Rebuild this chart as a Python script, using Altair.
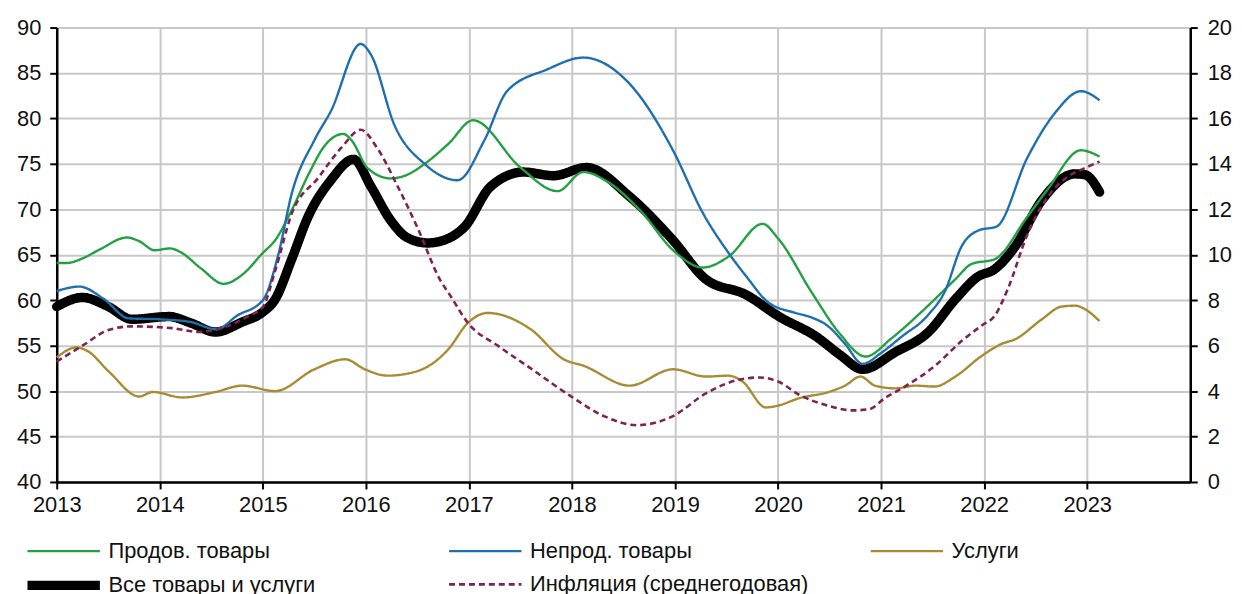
import altair as alt
import pandas as pd

# ---- data ----
names = ["Продов. товары", "Непрод. товары", "Услуги",
         "Все товары и услуги", "Инфляция (среднегодовая)"]

food_x = [2013.0, 2013.1, 2013.25, 2013.42, 2013.68, 2013.8, 2013.95, 2014.1, 2014.2, 2014.4,
          2014.62, 2014.8, 2015.0, 2015.12, 2015.28, 2015.45, 2015.6, 2015.78, 2015.86, 2016.02,
          2016.24, 2016.4, 2016.57, 2016.8, 2017.04, 2017.5, 2017.86, 2018.11, 2018.35, 2018.66,
          2019.0, 2019.27, 2019.52, 2019.85, 2020.0, 2020.33, 2020.6, 2020.85, 2021.1, 2021.4,
          2021.72, 2021.88, 2022.1, 2022.42, 2022.61, 2022.94, 2023.12]
food_y = [64.1, 64.1, 64.6, 65.6, 66.9, 66.5, 65.5, 65.7, 65.3, 63.5,
          61.8, 62.8, 65.2, 66.6, 69.9, 74.0, 77.0, 78.3, 77.6, 74.5,
          73.4, 73.8, 75.0, 77.2, 79.8, 74.6, 72.0, 74.1, 73.0, 69.9,
          65.3, 63.6, 64.8, 68.4, 66.8, 60.8, 56.3, 53.8, 55.8, 58.8,
          62.3, 64.0, 64.5, 69.2, 72.1, 76.5, 75.8]

nonfood_x = [2013.0, 2013.22, 2013.45, 2013.7, 2014.0, 2014.3, 2014.55, 2014.75, 2015.0, 2015.15,
             2015.28, 2015.5, 2015.66, 2015.95, 2016.05, 2016.28, 2016.57, 2016.89, 2017.15, 2017.37,
             2017.76, 2018.11, 2018.56, 2018.98, 2019.27, 2019.52, 2019.7, 2019.9, 2020.17, 2020.3,
             2020.49, 2020.65, 2020.82, 2021.0, 2021.2, 2021.45, 2021.62, 2021.78, 2021.95, 2022.12,
             2022.42, 2022.68, 2022.94, 2023.12]
nonfood_y = [61.0, 61.5, 60.2, 58.0, 57.9, 57.6, 56.8, 58.3, 60.0, 65.0,
             71.7, 77.6, 80.8, 88.2, 87.0, 79.2, 75.0, 73.2, 77.6, 83.0,
             85.4, 86.7, 83.8, 76.5, 69.6, 65.2, 62.5, 59.8, 58.6, 58.2,
             57.1, 55.2, 53.0, 54.2, 56.0, 58.3, 61.0, 65.9, 67.7, 68.1,
             75.7, 80.5, 83.0, 82.0]

svc_x = [2013.0, 2013.19, 2013.3, 2013.51, 2013.8, 2013.93, 2014.22, 2014.54, 2014.8, 2015.12,
         2015.5, 2015.8, 2015.99, 2016.21, 2016.5, 2016.8, 2016.99, 2017.18, 2017.6, 2017.92,
         2018.11, 2018.56, 2018.98, 2019.3, 2019.52, 2019.66, 2019.88, 2020.0, 2020.2, 2020.49,
         2020.65, 2020.8, 2020.94, 2021.14, 2021.33, 2021.52, 2021.72, 2021.98, 2022.17, 2022.3,
         2022.56, 2022.75, 2022.88, 2022.98, 2023.12]
svc_y = [53.7, 54.8, 54.4, 52.1, 49.4, 49.9, 49.3, 49.9, 50.6, 50.0,
         52.4, 53.5, 52.4, 51.7, 52.2, 54.6, 57.5, 58.6, 56.8, 53.5,
         52.8, 50.6, 52.4, 51.6, 51.7, 51.0, 48.2, 48.4, 49.2, 49.9,
         50.6, 51.6, 50.6, 50.3, 50.6, 50.5, 51.6, 53.9, 55.2, 55.7,
         57.9, 59.3, 59.4, 59.0, 57.7]

all_x = [2013.0, 2013.25, 2013.5, 2013.73, 2014.09, 2014.3, 2014.54, 2014.8, 2015.0, 2015.12,
         2015.28, 2015.44, 2015.66, 2015.88, 2016.05, 2016.24, 2016.4, 2016.6, 2016.8, 2016.96,
         2017.21, 2017.53, 2017.82, 2018.14, 2018.56, 2018.98, 2019.3, 2019.69, 2020.01, 2020.37,
         2020.6, 2020.82, 2021.14, 2021.46, 2021.72, 2021.94, 2022.1, 2022.3, 2022.56, 2022.88,
         2022.98, 2023.12]
all_y = [59.3, 60.3, 59.3, 57.9, 58.2, 57.5, 56.5, 57.6, 58.7, 60.1,
         64.5, 69.2, 73.2, 75.5, 72.5, 68.8, 66.9, 66.3, 66.8, 68.1,
         72.5, 74.1, 73.7, 74.6, 71.4, 66.6, 62.3, 60.6, 58.2, 56.0,
         54.0, 52.4, 54.3, 56.5, 60.1, 62.6, 63.4, 65.9, 71.0, 73.9,
         73.8, 71.9]

infl_x = [2013.0, 2013.25, 2013.51, 2013.73, 2014.12, 2014.38, 2014.54, 2014.86, 2015.0, 2015.12,
          2015.28, 2015.54, 2015.76, 2015.95, 2016.11, 2016.31, 2016.5, 2016.72, 2016.82, 2016.99,
          2017.28, 2017.6, 2017.98, 2018.31, 2018.63, 2018.98, 2019.3, 2019.62, 2019.82, 2020.01,
          2020.2, 2020.49, 2020.72, 2020.88, 2021.04, 2021.23, 2021.52, 2021.78, 2021.98, 2022.1,
          2022.23, 2022.42, 2022.61, 2022.8, 2022.97, 2023.12]
infl_y = [5.3, 6.0, 6.7, 6.85, 6.77, 6.6, 6.7, 7.3, 7.7, 9.3,
          11.8, 13.4, 14.7, 15.5, 14.7, 13.0, 11.2, 8.9, 8.2, 7.0,
          6.0, 5.0, 3.8, 2.9, 2.5, 2.9, 3.9, 4.5, 4.6, 4.4,
          3.85, 3.35, 3.15, 3.2, 3.7, 4.2, 5.1, 6.2, 6.9, 7.3,
          8.5, 10.9, 12.5, 13.4, 13.8, 14.1]

years = list(range(2013, 2024))
left_ticks = list(range(40, 95, 5))
right_ticks = list(range(0, 22, 2))

# ---- styles ----
colors = ["#23a042", "#1f6fae", "#a88b33", "#000000", "#7d2354"]
dashes = [[1, 0], [1, 0], [1, 0], [1, 0], [6, 4]]
widths = [2.4, 2.4, 2.4, 9.5, 2.6]
FONT = "Liberation Sans"


def frame(name, xs, ys):
    return pd.DataFrame({"s": name, "x": xs, "y": ys})


df_col = pd.concat([frame(names[2], svc_x, svc_y),
                    frame(names[0], food_x, food_y),
                    frame(names[1], nonfood_x, nonfood_y)])
df_all = frame(names[3], all_x, all_y)
df_infl = frame(names[4], infl_x, infl_y)

legend = alt.Legend(title=None, orient="none", legendX=-5, legendY=511, columns=3,
                    direction="horizontal", gridAlign="all", columnPadding=56, rowPadding=0,
                    symbolType="M-5.2,0H5.2", symbolSize=196, labelFontSize=22, labelFont=FONT,
                    labelColor="#111", labelOffset=33, padding=0, labelLimit=400)

x_enc = alt.X("x:Q", scale=alt.Scale(domain=[2013, 2024], nice=False, zero=False),
              axis=alt.Axis(values=years, format="d", title=None, grid=True,
                            gridColor="#c8c8c8", gridWidth=2, domainColor="#000", domainWidth=2.5,
                            tickColor="#000", tickWidth=2, tickSize=7, labelFontSize=22,
                            labelFont=FONT, labelColor="#111", labelPadding=6,
                            labelFlush=False))
left_axis = alt.Axis(values=left_ticks, title=None, grid=True, gridColor="#c8c8c8", gridWidth=2,
                     domainColor="#000", domainWidth=2.5, tickColor="#000", tickWidth=2,
                     tickSize=7, labelFontSize=22, labelFont=FONT, labelColor="#111",
                     labelPadding=9, labelFlush=False)
right_axis = alt.Axis(values=right_ticks, title=None, grid=False, orient="right",
                      domainColor="#000", domainWidth=2.5, tickColor="#000", tickWidth=2,
                      tickSize=7, labelFontSize=22, labelFont=FONT, labelColor="#111",
                      labelPadding=10, labelFlush=False)

color = alt.Color("s:N", scale=alt.Scale(domain=names, range=colors), legend=legend)
dash = alt.StrokeDash("s:N", scale=alt.Scale(domain=names, range=dashes), legend=legend)
sw = alt.StrokeWidth("s:N", scale=alt.Scale(type="ordinal", domain=names, range=widths),
                     legend=legend)

y_left = alt.Y("y:Q", scale=alt.Scale(domain=[40, 90], nice=False, zero=False), axis=left_axis)

black = alt.Chart(df_all).mark_line(interpolate="monotone", strokeCap="round",
                                     strokeJoin="round").encode(
    x=x_enc, y=y_left, color=color, strokeDash=dash, strokeWidth=sw)
others = alt.Chart(df_col).mark_line(interpolate="monotone").encode(
    x=x_enc, y=y_left, color=color, strokeDash=dash, strokeWidth=sw, detail="s:N")
infl = alt.Chart(df_infl).mark_line(interpolate="monotone").encode(
    x=x_enc,
    y=alt.Y("y:Q", scale=alt.Scale(domain=[0, 20], nice=False, zero=False), axis=right_axis),
    color=color, strokeDash=dash, strokeWidth=sw)

left = alt.layer(black, others)
chart = alt.layer(left, infl).resolve_scale(y="independent").properties(
    width=1140, height=457,
    autosize=alt.AutoSizeParams(type="none"),
    padding={"left": 49, "top": 18, "right": 44, "bottom": 115},
    background="white",
).configure_view(stroke=None)

chart.save("out.html", embed_options={"renderer": "svg", "actions": False})
